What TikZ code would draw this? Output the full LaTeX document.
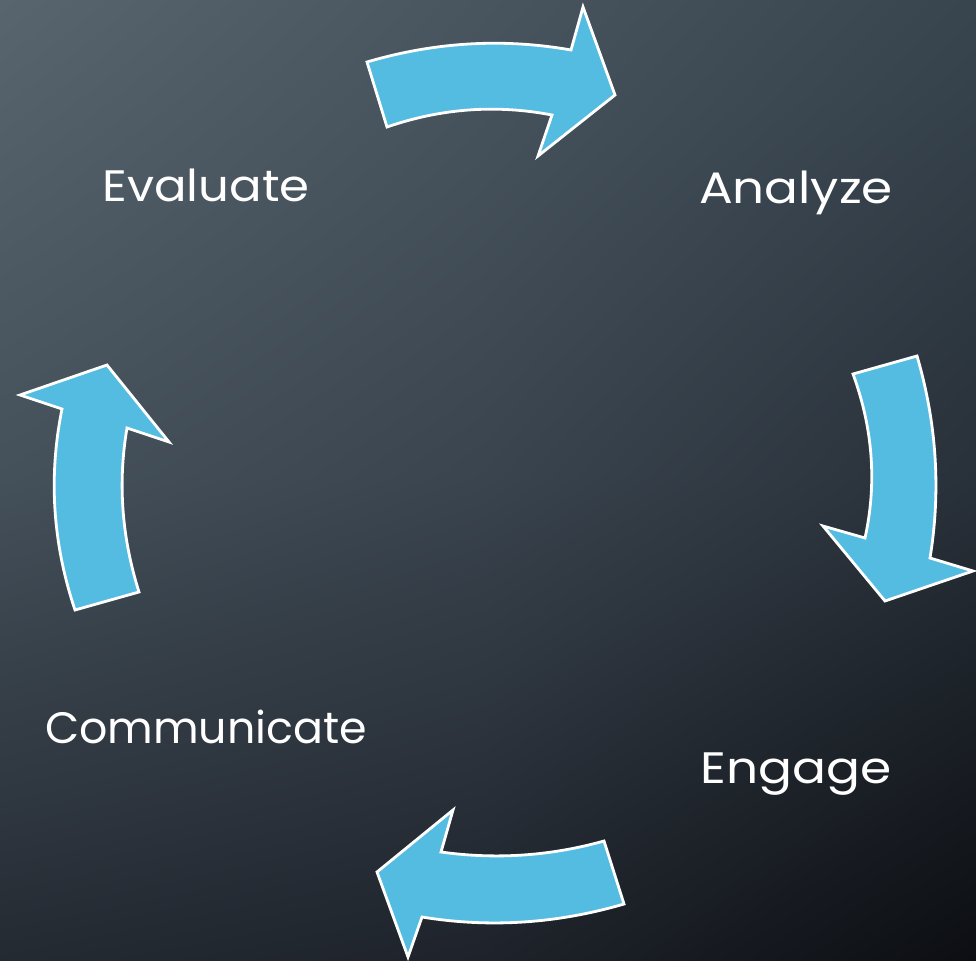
\documentclass[tikz,border=0pt]{standalone}
\usepackage{fontspec}
\setmainfont{Poppins}
\usepackage{graphicx}
\usetikzlibrary{shadings}
\definecolor{arrowblue}{RGB}{84,188,224}
\definecolor{bgTL}{RGB}{88,101,111}
\definecolor{bgTM}{RGB}{72,85,95}
\definecolor{bgTR}{RGB}{56,69,79}
\definecolor{bgML}{RGB}{68,80,90}
\definecolor{bgMM}{RGB}{58,68,78}
\definecolor{bgMR}{RGB}{40,48,57}
\definecolor{bgBL}{RGB}{36,42,50}
\definecolor{bgBM}{RGB}{30,35,43}
\definecolor{bgBR}{RGB}{12,14,18}
\tikzset{
  cyclearrow/.style={fill=arrowblue, draw=white, line width=2.8pt, line join=miter},
  label/.style={text=white, inner sep=0pt, anchor=base, font=\fontsize{44}{50}\selectfont}
}
\begin{document}
\begin{tikzpicture}[x=1pt,y=-1pt]
\useasboundingbox (0,0) rectangle (976,960);
% background: piecewise bilinear gradient
\shade[upper left=bgTL, upper right=bgTM, lower left=bgML, lower right=bgMM] (0,0) rectangle (489,481);
\shade[upper left=bgTM, upper right=bgTR, lower left=bgMM, lower right=bgMR] (487,0) rectangle (976,481);
\shade[upper left=bgML, upper right=bgMM, lower left=bgBL, lower right=bgBM] (0,479) rectangle (489,960);
\shade[upper left=bgMM, upper right=bgMR, lower left=bgBM, lower right=bgBR] (487,479) rectangle (976,960);

% top arrow
\draw[cyclearrow] (367,62) -- (387,127) .. controls (441.3,108.3) and (496.3,104.3) .. (552,115) -- (538,156) -- (615,95) -- (583,7) -- (571,50) .. controls (503,38) and (435,42) .. (367,62) -- cycle;
% right arrow
\draw[cyclearrow] (853,374) -- (917,356) .. controls (936.7,423.3) and (941,490.7) .. (930,558) -- (973,571) -- (885,601) -- (823,526) -- (865,538) .. controls (877,483.3) and (873,428.7) .. (853,374) -- cycle;
% bottom arrow
\draw[cyclearrow] (604,841) -- (624,904) .. controls (556.7,923.7) and (489.3,928) .. (422,917) -- (408,957) -- (377,872) -- (453,810) -- (441,852) .. controls (496,859.7) and (550.3,856) .. (604,841) -- cycle;
% left arrow
\draw[cyclearrow] (75,610) -- (139,592) .. controls (121.7,537.3) and (117.7,482.7) .. (127,428) -- (169,442) -- (107,365) -- (20,395) -- (62,409) .. controls (48.3,476.7) and (52.7,543.7) .. (75,610) -- cycle;

\node[label] (evaluate) at (206,201) {\resizebox{207pt}{\height}{Evaluate}};
\node[label] (analyze) at (796,203) {\resizebox{194pt}{\height}{Analyze}};
\node[label] (communicate) at (206,743) {\resizebox{322pt}{\height}{Communicate}};
\node[label] (engage) at (796,783) {\resizebox{191pt}{\height}{Engage}};
\end{tikzpicture}
\end{document}
